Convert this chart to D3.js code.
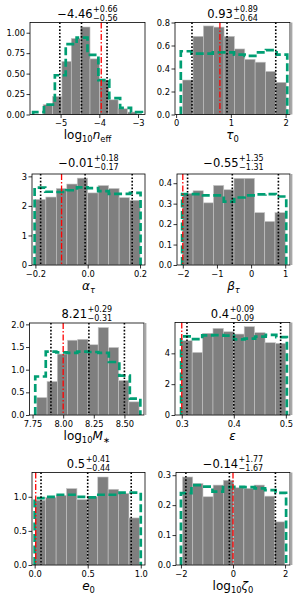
<!DOCTYPE html>
<html>
<head>
<meta charset="utf-8">
<script src="https://cdn.jsdelivr.net/npm/d3@7"></script>
<style>
  body { margin: 0; background: #fff; }
  svg { display: block; font-family: "DejaVu Sans", sans-serif; }
</style>
</head>
<body>
<svg id="chart" width="300" height="600"></svg>
<script>
// posterior summary per parameter: median, +err, -err, and injected value
const medians  = [-4.46, 0.93, -0.01, -0.55, 8.21, 0.4, 0.5, -0.14];
const errPlus  = [0.66, 0.89, 0.18, 1.35, 0.29, 0.09, 0.41, 1.77];
const errMinus = [0.56, 0.64, 0.17, 1.31, 0.31, 0.09, 0.44, 1.67];
const truths   = [-3.95, 0.8, -0.1, -2.0, 8.0, 0.3, 0.01, 0.0];

// posterior histograms (density), equal bins between lo and hi
const postRange = [[-5.45, -3.03], [0.12, 2.01], [-0.2, 0.2], [-2.0, 1.0],
                   [7.785, 8.62], [0.3, 0.5], [0.006, 0.987], [-1.94, 1.99]];
const postDensity = [
  [0.12, 0.22, 0.65, 0.93, 1.07, 0.68, 0.42, 0.18, 0.07, 0.03],
  [0.30, 0.68, 0.77, 0.76, 0.68, 0.57, 0.48, 0.455, 0.375, 0.28],
  [2.22, 2.30, 2.59, 2.74, 2.94, 2.44, 2.69, 2.59, 2.28, 2.19],
  [0.35, 0.363, 0.304, 0.389, 0.368, 0.424, 0.424, 0.256, 0.213, 0.256],
  [0.385, 0.74, 1.345, 1.65, 1.67, 1.55, 1.93, 1.49, 0.76, 0.29],
  [4.82, 4.06, 5.30, 5.62, 5.40, 5.25, 5.73, 5.34, 4.69, 4.65],
  [0.95, 0.99, 1.02, 1.12, 0.96, 1.00, 1.29, 1.11, 1.05, 0.69],
  [0.294, 0.272, 0.228, 0.267, 0.283, 0.258, 0.256, 0.267, 0.23, 0.144]
];

// prior histograms (density)
const priorRange = [[-5.71, -2.9], [0.086, 2.03], [-0.203, 0.202], [-2.02, 1.03],
                    [7.772, 8.63], [0.2987, 0.502], [0.0, 1.0], [-2.0, 2.04]];
const priorDensity = [
  [0.03, 0.12, 0.48, 0.86, 0.94, 0.73, 0.42, 0.2, 0.08, 0.03],
  [0.55, 0.53, 0.53, 0.54, 0.54, 0.52, 0.51, 0.54, 0.56, 0.52],
  [2.62, 2.48, 2.47, 2.53, 2.63, 2.6, 2.5, 2.41, 2.41, 2.44],
  [0.347, 0.347, 0.34, 0.34, 0.31, 0.33, 0.34, 0.345, 0.347, 0.335],
  [0.85, 1.40, 1.38, 1.37, 1.40, 1.39, 1.37, 1.17, 0.87, 0.36],
  [5.1, 4.92, 5.17, 5.18, 5.15, 4.9, 4.95, 5.08, 5.2, 5.05],
  [0.98, 1.0, 1.03, 1.03, 1.0, 0.99, 1.03, 1.03, 1.06, 1.06],
  [0.24, 0.267, 0.262, 0.245, 0.26, 0.261, 0.26, 0.256, 0.25, 0.241]
];

// axis limits and ticks
const xDomains = [[-5.79, -2.82], [-0.02, 2.08], [-0.213, 0.219], [-2.17, 1.14],
                  [7.725, 8.66], [0.287, 0.508], [-0.025, 1.04], [-2.19, 2.19]];
const yMax = [1.125, 0.8, 3.08, 0.445, 2.03, 6.0, 1.356, 0.309];
const xTicks = [[-5, -4, -3], [0, 1, 2], [-0.2, 0.0, 0.2], [-2, -1, 0, 1],
                [7.75, 8.0, 8.25, 8.5], [0.3, 0.4, 0.5], [0.0, 0.5, 1.0], [-2, 0, 2]];
const yTicks = [[0, 0.25, 0.5, 0.75, 1.0], [0, 0.2, 0.4, 0.6, 0.8], [0, 1, 2, 3],
                [0, 0.1, 0.2, 0.3, 0.4], [0, 0.5, 1.0, 1.5, 2.0], [0, 2, 4],
                [0, 0.5, 1.0], [0, 0.1, 0.2, 0.3]];
const xTickFmt = ["d", "d", ".1f", "d", ".2f", ".1f", ".1f", "d"];
const yTickFmt = [".2f", ".1f", "d", ".1f", ".1f", "d", ".1f", ".1f"];

// axis labels as mathtext pieces: [text, kind] (r = roman, i = italic, s = subscript)
const xLabels = [
  [["log", "r"], ["10", "s"], ["n", "i"], ["eff", "s"]],
  [["τ", "i"], ["0", "s"]],
  [["α", "i"], ["τ", "si"]],
  [["β", "i"], ["τ", "si"]],
  [["log", "r"], ["10", "s"], ["M", "i"], ["∗", "s"]],
  [["ε", "i"]],
  [["e", "i"], ["0", "s"]],
  [["log", "r"], ["10", "s"], ["ζ", "i"], ["0", "s"]]
];

// panel frames in pixels
const boxes = [
  { l: 30, r: 145, t: 22.5, b: 114.5 }, { l: 175, r: 290, t: 22.5, b: 114.5 },
  { l: 32, r: 145, t: 174, b: 265 },    { l: 177, r: 290, t: 174, b: 265 },
  { l: 29.5, r: 144, t: 323, b: 415 },  { l: 175, r: 290, t: 322.5, b: 415 },
  { l: 32, r: 145, t: 472.5, b: 565 },  { l: 176, r: 290, t: 472.5, b: 565 }
];
const titleY = [18.3, 18.3, 167, 167, 318.3, 318.3, 468.3, 468.3];
const grayEdge = [false, true, false, true, true, true, false, true];

const green = "#009e73";
const svg = d3.select("#chart");
const minus = s => s.replace("-", "\u2212");

medians.forEach((med, i) => {
  const box = boxes[i];
  const x = d3.scaleLinear().domain(xDomains[i]).range([box.l, box.r]);
  const y = d3.scaleLinear().domain([0, yMax[i]]).range([box.b, box.t]);
  const g = svg.append("g");

  // posterior bars
  const [lo, hi] = postRange[i];
  const w = (hi - lo) / postDensity[i].length;
  g.selectAll("rect.bar")
    .data(postDensity[i])
    .join("rect")
    .attr("class", "bar")
    .attr("x", (d, k) => x(lo + k * w))
    .attr("width", (d, k) => x(lo + (k + 1) * w) - x(lo + k * w))
    .attr("y", d => y(d))
    .attr("height", d => y(0) - y(d))
    .attr("fill", "#7f7f7f")
    .attr("stroke", "#c6c6c6")
    .attr("stroke-width", 0.6);

  // prior as dashed step outline
  const [plo, phi] = priorRange[i];
  const pw = (phi - plo) / priorDensity[i].length;
  const pts = [[plo, 0]];
  priorDensity[i].forEach((d, k) => {
    pts.push([plo + k * pw, d]);
    pts.push([plo + (k + 1) * pw, d]);
  });
  pts.push([phi, 0]);
  g.append("path")
    .datum(pts)
    .attr("d", d3.line().x(p => x(p[0])).y(p => y(p[1])))
    .attr("fill", "none")
    .attr("stroke", green)
    .attr("stroke-width", 2.7)
    .attr("stroke-dasharray", "8,3.5");

  // quantile lines
  [med - errMinus[i], med, med + errPlus[i]].forEach(v => {
    g.append("line")
      .attr("x1", x(v)).attr("x2", x(v))
      .attr("y1", box.t).attr("y2", box.b)
      .attr("stroke", "#000")
      .attr("stroke-width", 1.6)
      .attr("stroke-dasharray", "1.6,1.8");
  });

  // injected value
  g.append("line")
    .attr("x1", x(truths[i])).attr("x2", x(truths[i]))
    .attr("y1", box.t).attr("y2", box.b)
    .attr("stroke", "#f00")
    .attr("stroke-width", 1.3)
    .attr("stroke-dasharray", "6,2,1.5,2");

  // axes
  const xAxis = g.append("g")
    .attr("transform", `translate(0,${box.b})`)
    .call(d3.axisBottom(x).tickValues(xTicks[i])
      .tickFormat(d3.format(xTickFmt[i])).tickSize(3.5).tickPadding(2.2));
  const yAxis = g.append("g")
    .attr("transform", `translate(${box.l},0)`)
    .call(d3.axisLeft(y).tickValues(yTicks[i])
      .tickFormat(d3.format(yTickFmt[i])).tickSize(3.5).tickPadding(1.5));
  [xAxis, yAxis].forEach(a => {
    a.select(".domain").remove();
    a.selectAll("line").attr("stroke", "#000").attr("stroke-width", 0.8);
    a.selectAll("text").attr("fill", "#000")
      .style("font-size", "8.3px").style("font-family", "DejaVu Sans");
  });

  // frame
  g.append("rect")
    .attr("x", box.l).attr("y", box.t)
    .attr("width", box.r - box.l).attr("height", box.b - box.t)
    .attr("fill", "none").attr("stroke", "#000").attr("stroke-width", 0.8);
  if (grayEdge[i]) {
    g.append("line")
      .attr("x1", box.r + 1.4).attr("x2", box.r + 1.4)
      .attr("y1", box.t).attr("y2", box.b)
      .attr("stroke", "#a8a8a8").attr("stroke-width", 2);
  }

  // title: median with +/- errors stacked
  const tg = svg.append("g");
  const main = tg.append("text").style("font-size", "11.5px").text(minus(String(med)));
  const mw = main.node().getComputedTextLength();
  const sup = tg.append("text").attr("x", mw + 0.5).attr("y", -6.5)
    .style("font-size", "8px").text("+" + d3.format(".2f")(errPlus[i]));
  const sub = tg.append("text").attr("x", mw + 0.5).attr("y", 2.6)
    .style("font-size", "8px").text("\u2212" + d3.format(".2f")(errMinus[i]));
  const tw = mw + 0.5 + Math.max(sup.node().getComputedTextLength(), sub.node().getComputedTextLength());
  tg.attr("transform", `translate(${(box.l + box.r) / 2 - tw / 2},${titleY[i]})`);

  // x label
  const lab = svg.append("text")
    .attr("x", (box.l + box.r) / 2)
    .attr("y", box.b + 24.5)
    .attr("text-anchor", "middle")
    .style("font-size", "12px");
  let cur = 0;
  xLabels[i].forEach(([t, kind]) => {
    const isSub = kind[0] === "s";
    const target = isSub ? 3 : 0;
    lab.append("tspan")
      .attr("dy", target - cur)
      .style("font-size", isSub ? "8.4px" : "12px")
      .style("font-style", (kind === "i" || kind === "si") ? "italic" : "normal")
      .text(t);
    cur = target;
  });
});
</script>
</body>
</html>
